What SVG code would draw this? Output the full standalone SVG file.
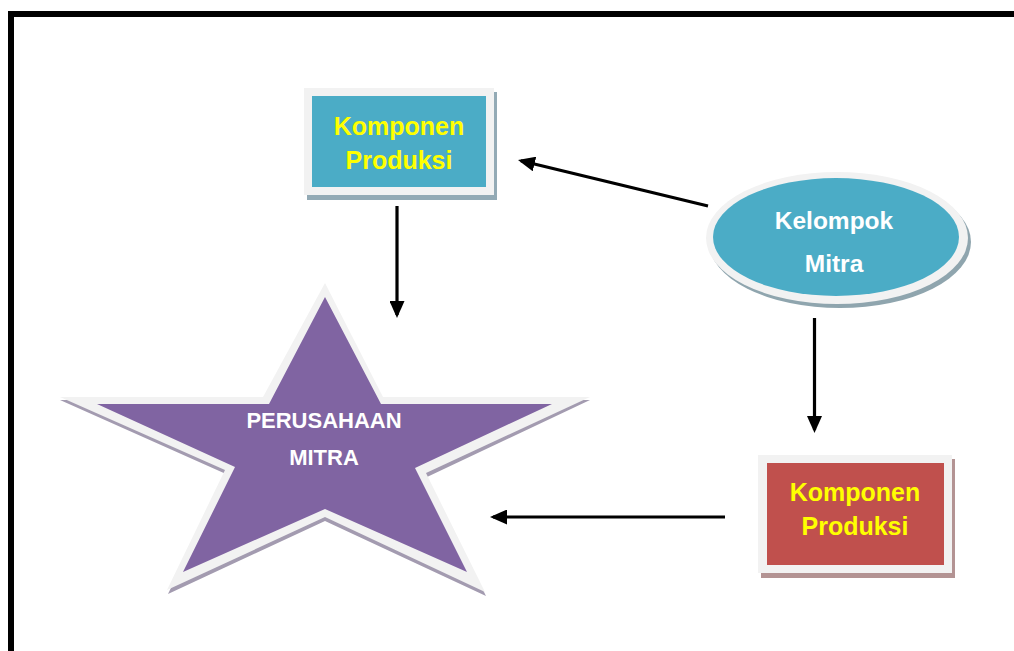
<svg xmlns="http://www.w3.org/2000/svg" width="1014" height="651" viewBox="0 0 1014 651">
<style>
.lbl{font-family:"Liberation Sans",Arial,sans-serif;font-weight:bold;text-anchor:middle}
.yel{fill:#ffff00;font-size:25px}
.wht{fill:#ffffff}
.frame{fill:#f2f2f2}
.conn{stroke:#000;stroke-width:3.2;fill:none;marker-end:url(#ah)}
</style>
<defs>
<marker id="ah" markerUnits="userSpaceOnUse" markerWidth="17" markerHeight="15" refX="14" refY="7.5" orient="auto">
<path d="M0,0 L17,7.5 L0,15 z" fill="#000"/>
</marker>
</defs>
<rect width="1014" height="651" fill="#fff"/>
<path d="M11,651 V14 H1014" fill="none" stroke="#000" stroke-width="6"/>

<g id="star">
<polygon fill="#a39bb0" points="325,287 383,400 590,400 427,477 486,596 325,521 168,594 226,474 60,400 263,400"/>
<polygon class="frame" points="325,283 383,397 590,397 426,473 485,592 325,517 167,590 225,470 60,397 263,397"/>
<polygon fill="#8064a2" points="325,297 381,404 552,404 415,468 467,572 325,509 183,572 235,467 97,404 269,404"/>
<text class="lbl wht" x="324" y="428" font-size="22">PERUSAHAAN</text>
<text class="lbl wht" x="324" y="465" font-size="22">MITRA</text>
</g>

<g id="top-box">
<rect x="307" y="92" width="190" height="108" fill="#93aab5"/>
<rect class="frame" x="304" y="88" width="190" height="107"/>
<rect x="312" y="96" width="174" height="91" fill="#4bacc6"/>
<text class="lbl yel" x="399" y="135">Komponen</text>
<text class="lbl yel" x="399" y="169">Produksi</text>
</g>

<g id="kelompok">
<ellipse cx="840" cy="242" rx="131" ry="66" fill="#8fa5ae"/>
<ellipse class="frame" cx="837" cy="238" rx="131" ry="66"/>
<ellipse cx="836" cy="237" rx="123" ry="59" fill="#4bacc6"/>
<text class="lbl wht" x="834" y="229" font-size="24.5">Kelompok</text>
<text class="lbl wht" x="834" y="272" font-size="24.5">Mitra</text>
</g>

<g id="bottom-box">
<rect x="761" y="459" width="194" height="119" fill="#b39393"/>
<rect class="frame" x="758" y="455" width="194" height="118"/>
<rect x="767" y="463" width="177" height="102" fill="#c0504d"/>
<text class="lbl yel" x="855" y="501">Komponen</text>
<text class="lbl yel" x="855" y="535">Produksi</text>
</g>

<g id="connectors">
<line class="conn" x1="708" y1="206" x2="520.9" y2="160.7"/>
<line class="conn" x1="397" y1="206" x2="397" y2="315"/>
<line class="conn" x1="814.5" y1="318" x2="814.5" y2="430"/>
<line class="conn" x1="725" y1="517" x2="493" y2="517"/>
</g>
</svg>
